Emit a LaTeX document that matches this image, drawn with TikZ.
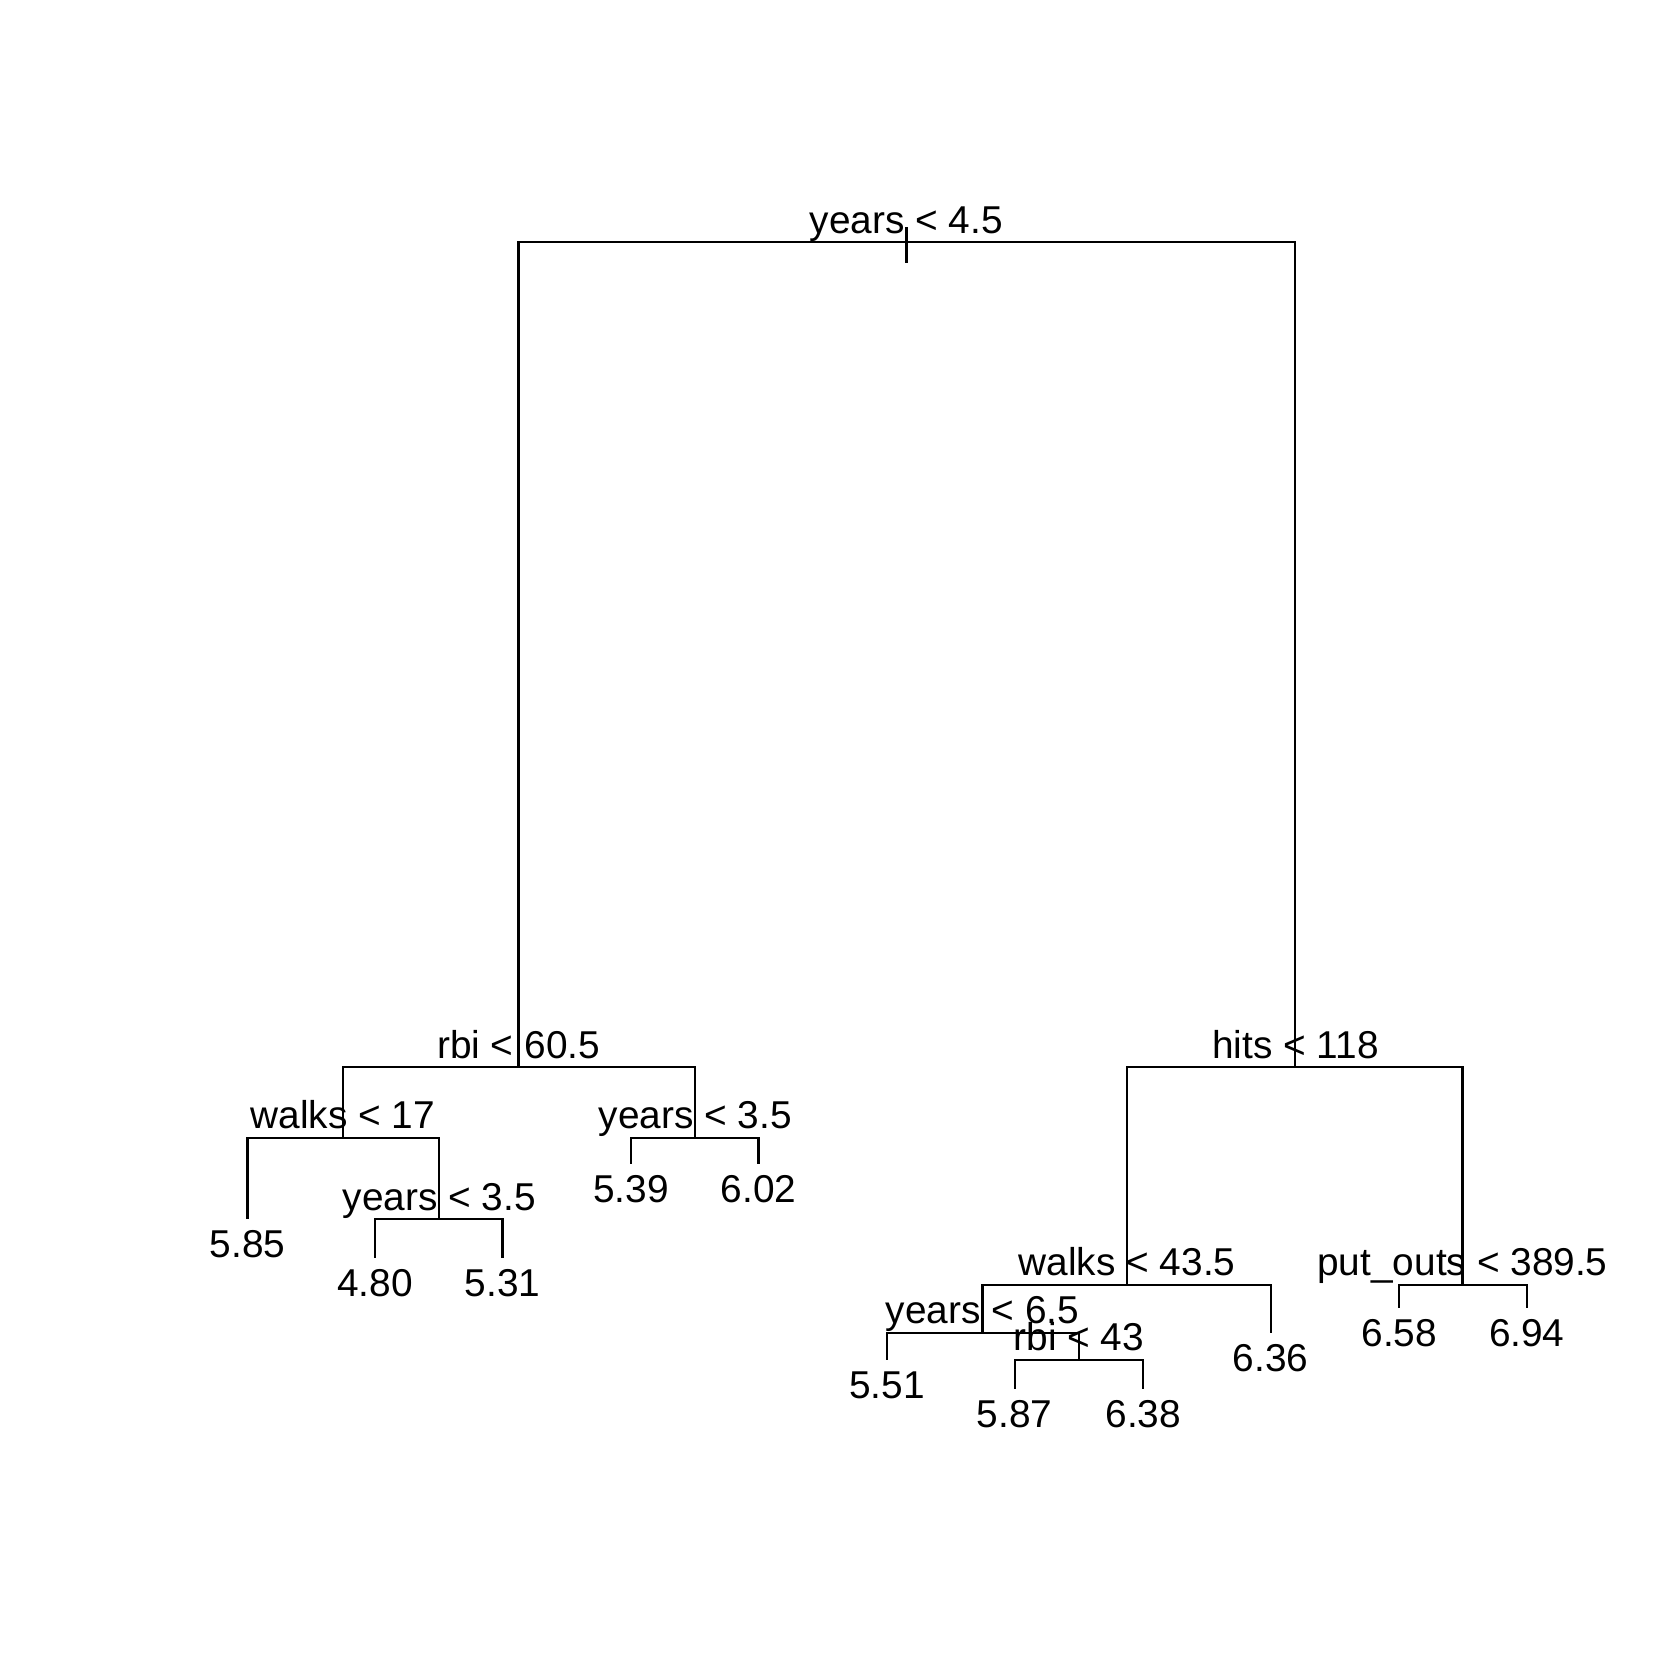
\documentclass[tikz,border=0pt]{standalone}
\usepackage{fontspec}
\setmainfont{Liberation Sans}
\usetikzlibrary{positioning,calc}

\begin{document}
\begin{tikzpicture}
   [x=0.01cm,y=-0.01cm,line width=0.6pt,
	split/.style={anchor=base,inner sep=0pt,yshift=8.5*0.01cm,font=\fontsize{10.3}{12}\selectfont},
	leaf/.style={anchor=base,inner sep=0pt,yshift=-36*0.01cm,font=\fontsize{10.3}{12}\selectfont}]

\useasboundingbox (0,0) rectangle (1568,1568);

% split points
\coordinate (root) at (846,226);
\coordinate (rbi) at (484,996);
\coordinate (hits) at (1209,996);
\coordinate (walksA) at (320,1062);
\coordinate (yrsB) at (649,1062);
\coordinate (yrsA) at (410,1138);
\coordinate (walksC) at (1052,1199);
\coordinate (puts) at (1365,1199);
\coordinate (yrsC) at (917,1244);
\coordinate (rbiC) at (1007,1269);
% leaf ends
\coordinate (l585) at (231,1138);
\coordinate (l480) at (350,1174);
\coordinate (l531) at (469,1174);
\coordinate (l539) at (589,1086);
\coordinate (l602) at (708,1086);
\coordinate (l636) at (1186,1244);
\coordinate (l658) at (1306,1221);
\coordinate (l694) at (1425,1221);
\coordinate (l551) at (828,1269);
\coordinate (l587) at (947,1296);
\coordinate (l638) at (1067,1296);

\draw (root) -| (rbi);
\draw (root) -| (hits);
\draw (rbi) -| (walksA);
\draw (rbi) -| (yrsB);
\draw (walksA) -| (l585);
\draw (walksA) -| (yrsA);
\draw (yrsA) -| (l480);
\draw (yrsA) -| (l531);
\draw (yrsB) -| (l539);
\draw (yrsB) -| (l602);
\draw (hits) -| (walksC);
\draw (hits) -| (puts);
\draw (walksC) -| (yrsC);
\draw (walksC) -| (l636);
\draw (yrsC) -| (l551);
\draw (yrsC) -| (rbiC);
\draw (rbiC) -| (l587);
\draw (rbiC) -| (l638);
\draw (puts) -| (l658);
\draw (puts) -| (l694);
\draw ($(root)+(0,-14)$) -- ($(root)+(0,19)$);

\node [split] (t-root) at (root) {years < 4.5};
\node [split] (t-rbi) at (rbi) {rbi < 60.5};
\node [split] (t-hits) at (hits) {hits < 118};
\node [split] (t-walksA) at (walksA) {walks < 17};
\node [split] (t-yrsB) at (yrsB) {years < 3.5};
\node [split] (t-yrsA) at (yrsA) {years < 3.5};
\node [split] (t-walksC) at (walksC) {walks < 43.5};
\node [split] (t-puts) at (puts) {put\_outs < 389.5};
\node [split] (t-yrsC) at (yrsC) {years < 6.5};
\node [split] (t-rbiC) at (rbiC) {rbi < 43};

\node [leaf] (v585) at (l585) {5.85};
\node [leaf] (v480) at (l480) {4.80};
\node [leaf] (v531) at (l531) {5.31};
\node [leaf] (v539) at (l539) {5.39};
\node [leaf] (v602) at (l602) {6.02};
\node [leaf] (v636) at (l636) {6.36};
\node [leaf] (v658) at (l658) {6.58};
\node [leaf] (v694) at (l694) {6.94};
\node [leaf] (v551) at (l551) {5.51};
\node [leaf] (v587) at (l587) {5.87};
\node [leaf] (v638) at (l638) {6.38};
\end{tikzpicture}
\end{document}
